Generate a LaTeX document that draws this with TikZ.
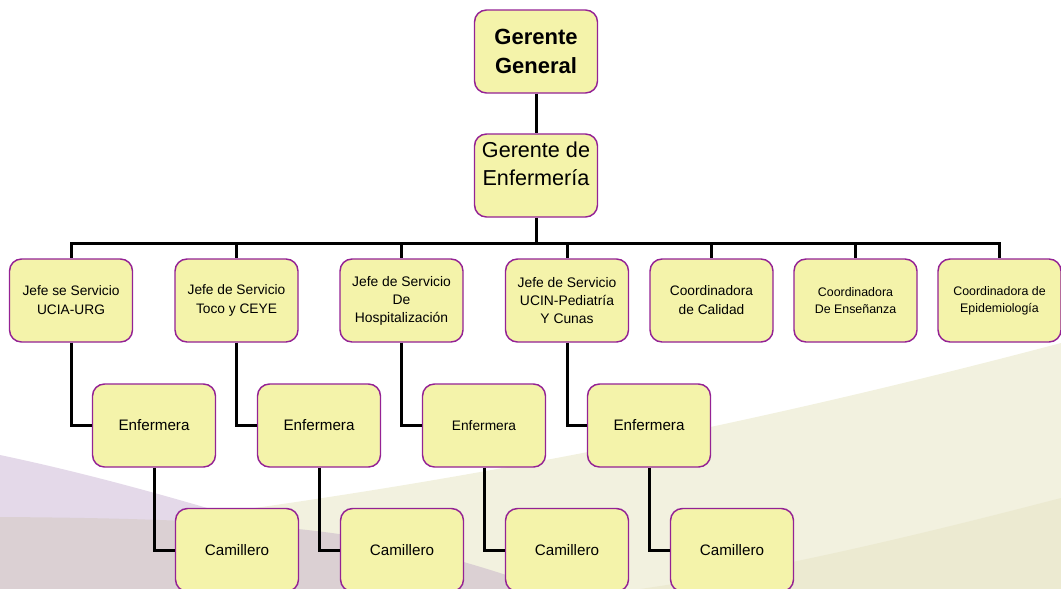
\documentclass[tikz,border=0pt]{standalone}
\usepackage{fontspec}
\setmainfont{Liberation Sans}
\definecolor{boxfill}{HTML}{F4F3AA}
\definecolor{boxline}{HTML}{942294}
\definecolor{bgbeige}{HTML}{F2F1DF}
\definecolor{bgbeigeB}{HTML}{ECEAD1}
\definecolor{bgpurple}{HTML}{E4D9E9}
\definecolor{bgmauve}{HTML}{DBD0D3}
\begin{document}
\begin{tikzpicture}[x=0.75pt,y=-0.75pt,
  orgbox/.style={draw=boxline,fill=boxfill,line width=1.1pt,rounded corners=9pt,
    minimum width=92.25pt,minimum height=62.25pt,inner sep=0pt,align=center,text=black},
  fbig/.style={font=\fontsize{16.2}{21}\selectfont},
  fbigb/.style={font=\fontsize{16.5}{21.75}\selectfont\bfseries},
  fmid/.style={font=\fontsize{10.3}{14.25}\selectfont},
  fmidb/.style={font=\fontsize{10.4}{13.5}\selectfont},
  fsmall/.style={font=\fontsize{9.3}{12.75}\selectfont},
  fen/.style={font=\fontsize{11.4}{14}\selectfont},
  fen3/.style={font=\fontsize{10.3}{14}\selectfont},
  link/.style={draw=black,line width=2.25pt}]
\useasboundingbox (0,0) rectangle (1061,589);
% background swooshes
\fill[bgbeige] (150,522) .. controls (500,478) and (800,412) .. (1061,343) -- (1061,589) -- (150,589) -- cycle;
\fill[bgbeigeB] (640,589) .. controls (760,572) and (900,540) .. (1061,498) -- (1061,589) -- cycle;
\fill[bgpurple] (0,455) .. controls (100,476) and (200,505) .. (300,536) -- (300,589) -- (0,589) -- cycle;
\fill[bgmauve] (0,517) .. controls (150,518) and (300,522) .. (400,545) .. controls (460,560) and (510,575) .. (545,589) -- (0,589) -- cycle;

% nodes
\node[orgbox,fbigb] (gg) at (536,51.5) {Gerente\\General};
\node[orgbox] (ge) at (536,175.5) {};
\node[fbig,align=center,inner sep=0pt] (get) at (536,164) {Gerente de\\Enfermería};

\node[orgbox,fmid] (j1) at (71,300.5) {Jefe se Servicio\\UCIA-URG};
\node[orgbox,fmid] (j2) at (236.5,300.5) {Jefe de Servicio\\Toco y CEYE};
\node[orgbox,fmidb] (j3) at (401.5,300.5) {Jefe de Servicio\\De\\Hospitalización};
\node[orgbox,fmidb] (j4) at (567,300.5) {Jefe de Servicio\\UCIN-Pediatría\\Y Cunas};
\node[orgbox,fmid] (c5) at (711.5,300.5) {Coordinadora\\de Calidad};
\node[orgbox,fsmall] (c6) at (855.5,300.5) {Coordinadora\\De Enseñanza};
\node[orgbox,fsmall] (c7) at (999.5,300.5) {Coordinadora de\\Epidemiología};

\node[orgbox,fen] (e1) at (154,425.5) {Enfermera};
\node[orgbox,fen] (e2) at (319,425.5) {Enfermera};
\node[orgbox,fen3] (e3) at (484,425.5) {Enfermera};
\node[orgbox,fen] (e4) at (649,425.5) {Enfermera};

\node[orgbox,fen] (k1) at (237,550) {Camillero};
\node[orgbox,fen] (k2) at (402,550) {Camillero};
\node[orgbox,fen] (k3) at (567,550) {Camillero};
\node[orgbox,fen] (k4) at (732,550) {Camillero};

% connectors
\coordinate (busL) at (71,243);
\coordinate (busR) at (999.5,243);
\coordinate (busM) at (536,243);
\draw[link] (gg.south) -- (ge.north);
\draw[link] (ge.south) -- (busM);
\draw[link,line cap=rect] (busL) -- (busR);
\foreach \n in {j1,j2,j3,j4,c5,c6,c7}{
  \draw[link] (\n.north |- busL) -- (\n.north);
}
\foreach \a/\b in {j1/e1,j2/e2,j3/e3,j4/e4,e1/k1,e2/k2,e3/k3,e4/k4}{
  \draw[link] (\a.south) |- (\b.west);
}
\end{tikzpicture}
\end{document}
